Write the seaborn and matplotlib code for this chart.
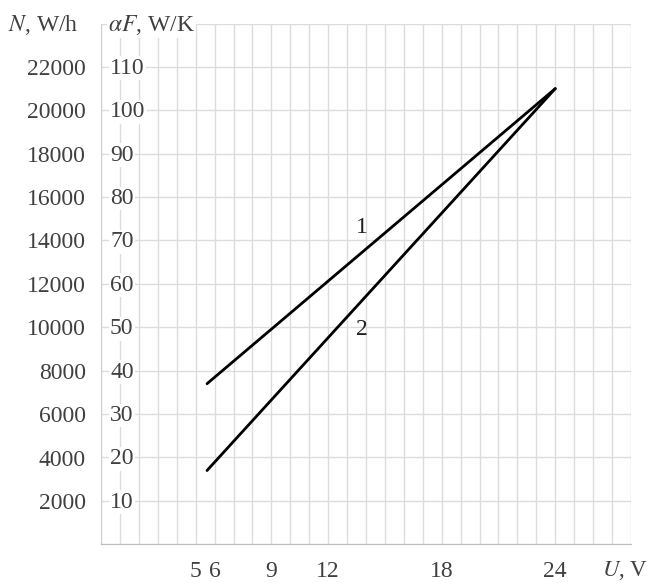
import pandas as pd
import matplotlib.pyplot as plt
import seaborn as sns

# data
u_points = [5.6, 24]
af_curve1 = [37, 105]
af_curve2 = [17, 105]
curve_names = ['1', '2']

af_ticks = [10, 20, 30, 40, 50, 60, 70, 80, 90, 100, 110]
n_ticks = [2000, 4000, 6000, 8000, 10000, 12000, 14000, 16000, 18000, 20000, 22000]
u_labelled = [5, 6, 9, 12, 18, 24]

df = pd.DataFrame({
    'U': u_points + u_points,
    'aF': af_curve1 + af_curve2,
    'curve': [curve_names[0]] * 2 + [curve_names[1]] * 2,
})

sns.set_style('white')
plt.rcParams['font.family'] = ['Liberation Serif', 'DejaVu Serif']
plt.rcParams['mathtext.fontset'] = 'stix'

txt = '#404040'
grid_c = '#dcdcdc'

fig = plt.figure(figsize=(6.54, 5.83), dpi=100)
ax = fig.add_axes([101 / 654, 1 - 544.3 / 583, 530 / 654, (544.3 - 23.5) / 583])

sns.lineplot(data=df, x='U', y='aF', hue='curve', palette=['black', 'black'],
             linewidth=2, legend=False, ax=ax, zorder=5)

ax.set_xlim(0, 28)
ax.set_ylim(0, 120)
ax.set_xticks(range(0, 29))
ax.set_xticklabels([str(v) if v in u_labelled else '' for v in range(0, 29)])
ax.set_yticks(range(0, 121, 10))
ax.set_yticklabels([''] + [str(n) for n in n_ticks] + [''])
ax.grid(True, color=grid_c, linewidth=1)
ax.set_axisbelow(True)
for s in ['top', 'right']:
    ax.spines[s].set_visible(False)
ax.spines['left'].set_color('#d0d0d0')
ax.spines['bottom'].set_color('#bdbdbd')
ax.tick_params(axis='both', colors='#c0c0c0', labelcolor=txt, labelsize=17,
               length=6, width=1, direction='out')
ax.tick_params(axis='x', pad=6)
ax.tick_params(axis='y', pad=5)
ax.set_xlabel('')
ax.set_ylabel('')

# second scale printed inside the axes
for v in af_ticks:
    ax.annotate(str(v), xy=(0, v), xytext=(6.5, -1), textcoords='offset points',
                ha='left', va='center', fontsize=17, color=txt,
                bbox=dict(fc='white', ec='none', pad=1), zorder=3)

ax.annotate(r'$\alpha F$, W/K', xy=(0, 120), xytext=(5, -1), textcoords='offset points',
            ha='left', va='center', fontsize=17, color=txt,
            bbox=dict(fc='white', ec='none', pad=1), zorder=3, annotation_clip=False)
fig.text(78 / 654, 1 - 25 / 583, r'$N$, W/h', ha='right', va='center', fontsize=17, color=txt)
fig.text(648 / 654, 1 - 576 / 583, r'$U$, V', ha='right', va='baseline', fontsize=16.5, color=txt)

# curve numbers
ax.text(13.8, 73, '1', ha='center', va='center', fontsize=17, color='#202020')
ax.text(13.8, 49.4, '2', ha='center', va='center', fontsize=17, color='#202020')

fig.savefig('out.png', dpi=100)
